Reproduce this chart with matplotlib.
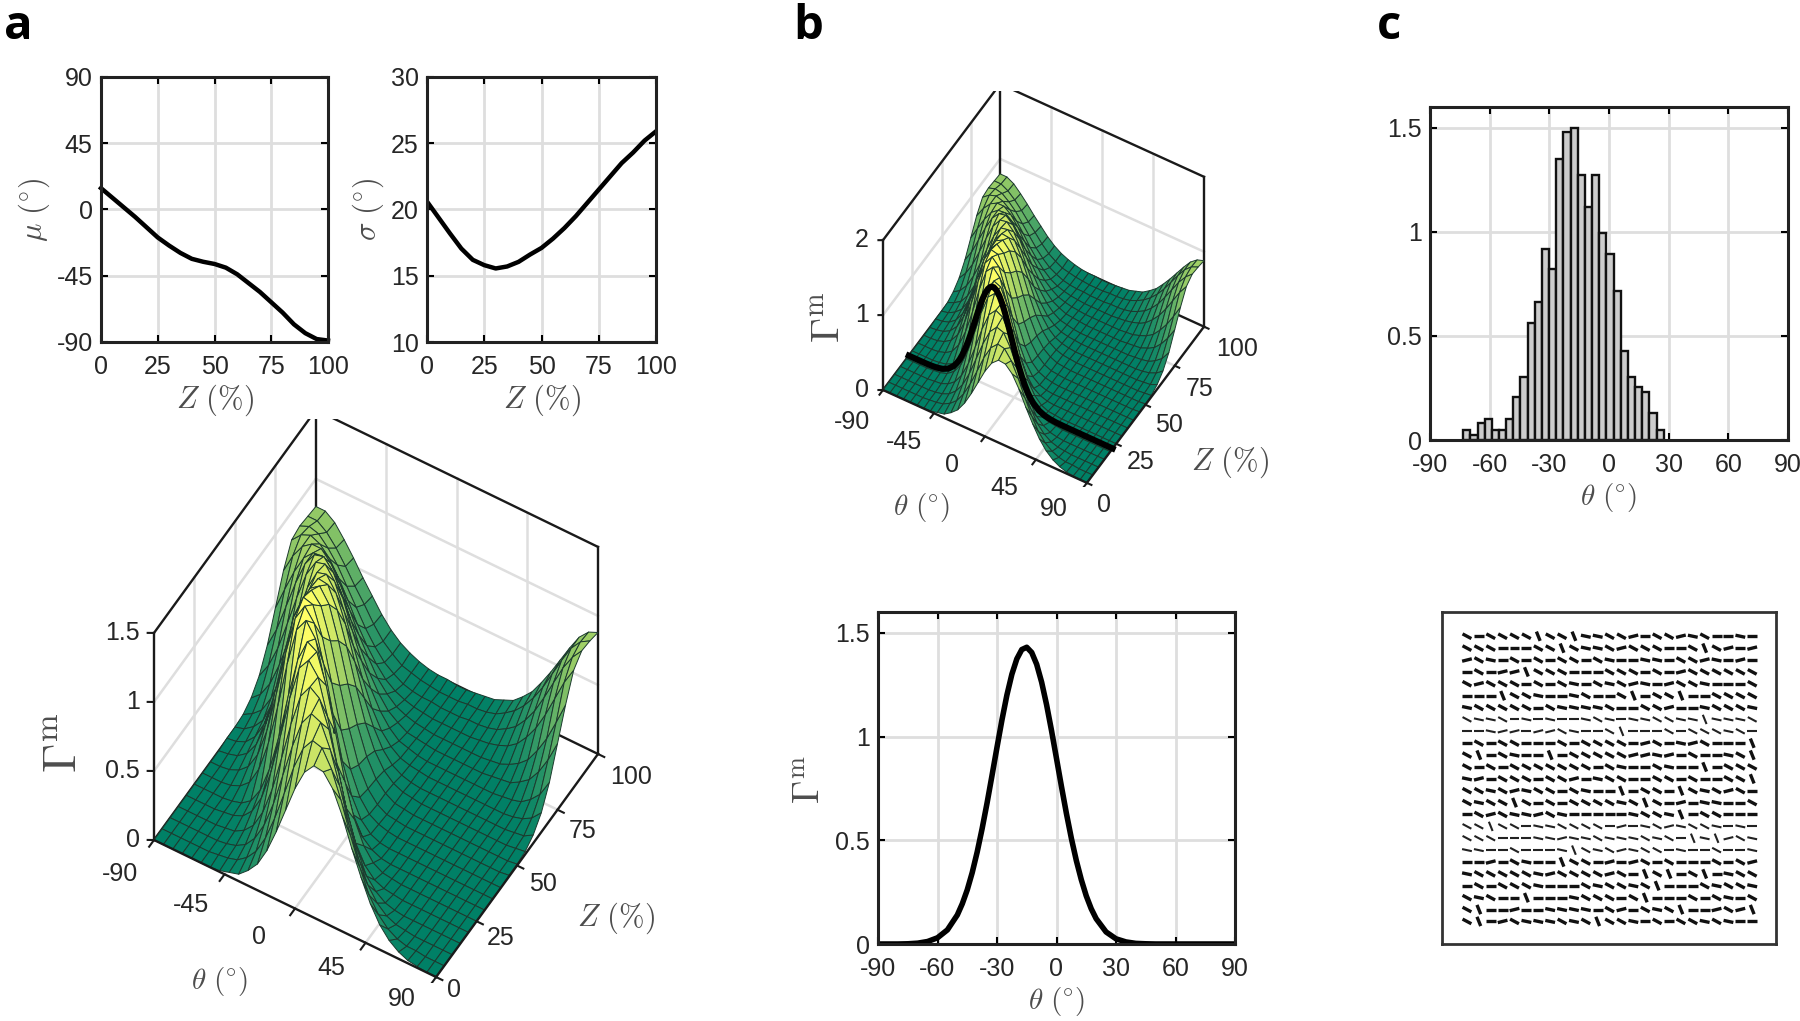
import numpy as np
import matplotlib
matplotlib.use('Agg')
import matplotlib.pyplot as plt
from matplotlib.collections import LineCollection
from mpl_toolkits.mplot3d import proj3d

plt.rcParams['font.family'] = ['Liberation Sans', 'DejaVu Sans']
plt.rcParams['mathtext.fontset'] = 'cm'
plt.rcParams['axes.unicode_minus'] = False

W, H = 1800, 1021

# top panels of a
z_pct = [0, 5, 10, 15, 20, 25, 30, 35, 40, 45, 50, 55, 60, 65, 70, 75, 80, 85, 90, 95, 100]
mu_deg = [14.5, 8, 1.5, -5, -12, -19, -24.5, -29.5, -33.5, -35.5, -37, -39.5, -44, -50, -56, -63, -70, -78, -84, -88, -89]
sigma_deg = [20.6, 19.4, 18.2, 17.05, 16.2, 15.8, 15.55, 15.7, 16.05, 16.6, 17.1, 17.8, 18.6, 19.5, 20.5, 21.5, 22.5, 23.5, 24.3, 25.2, 25.9]

# surface, one row per z_pct value, one column per theta_grid value
theta_grid = [-90, -84, -78, -72, -66, -60, -54, -48, -42, -36, -30, -24, -18, -12, -6, 0,
              6, 12, 18, 24, 30, 36, 42, 48, 54, 60, 66, 72, 78, 84, 90]
gamma_m = [
    [0, 0, 0, 0, 0, 0, 0, .01, .03, .05, .11, .19, .32, .49, .68, .87, 1.02, 1.10, 1.09, 1.00, .84, .64, .46, .30, .18, .10, .05, .02, .01, 0, 0],
    [0, 0, 0, 0, 0, 0, .01, .02, .04, .09, .17, .30, .48, .69, .91, 1.08, 1.17, 1.15, 1.03, .84, .62, .42, .25, .14, .07, .03, .01, .01, 0, 0, 0],
    [0, 0, 0, 0, 0, 0, .01, .03, .07, .15, .28, .47, .71, .95, 1.15, 1.25, 1.22, 1.06, .83, .58, .37, .21, .11, .05, .02, .01, 0, 0, 0, 0, 0],
    [0, 0, 0, 0, 0, .01, .02, .06, .13, .26, .46, .72, 1.00, 1.23, 1.33, 1.28, 1.09, .82, .54, .32, .16, .08, .03, .01, 0, 0, 0, 0, 0, 0, 0],
    [0, 0, 0, 0, .01, .02, .05, .12, .25, .47, .76, 1.07, 1.32, 1.41, 1.32, 1.07, .76, .47, .25, .12, .05, .02, .01, 0, 0, 0, 0, 0, 0, 0, 0],
    [0, 0, 0, 0, .01, .03, .08, .19, .38, .65, .98, 1.27, 1.43, 1.39, 1.18, .87, .55, .31, .15, .06, .02, .01, 0, 0, 0, 0, 0, 0, 0, 0, 0],
    [0, 0, 0, .01, .04, .10, .23, .45, .75, 1.09, 1.37, 1.47, 1.37, 1.09, .75, .45, .23, .10, .04, .01, 0, 0, 0, 0, 0, 0, 0, 0, 0, 0, 0],
    [0, 0, .01, .04, .10, .22, .43, .73, 1.06, 1.34, 1.46, 1.37, 1.11, .78, .47, .25, .11, .04, .01, 0, 0, 0, 0, 0, 0, 0, 0, 0, 0, 0, 0],
    [0, .01, .03, .08, .18, .36, .63, .95, 1.24, 1.41, 1.39, 1.19, .89, .58, .33, .16, .07, .03, .01, 0, 0, 0, 0, 0, 0, 0, 0, 0, 0, 0, 0],
    [.01, .02, .05, .12, .25, .46, .74, 1.04, 1.27, 1.38, 1.30, 1.08, .79, .51, .28, .14, .06, .02, .01, 0, 0, 0, 0, 0, 0, 0, 0, 0, 0, 0, .01],
    [.01, .03, .08, .16, .32, .54, .82, 1.09, 1.28, 1.33, 1.23, 1.00, .72, .46, .26, .13, .06, .02, .01, 0, 0, 0, 0, 0, 0, 0, 0, 0, 0, 0, .01],
    [.02, .06, .12, .24, .42, .66, .92, 1.15, 1.27, 1.26, 1.11, .88, .62, .39, .22, .11, .05, .02, .01, 0, 0, 0, 0, 0, 0, 0, 0, 0, 0, .01, .02],
    [.06, .12, .23, .40, .61, .85, 1.06, 1.20, 1.22, 1.12, .93, .69, .46, .28, .15, .07, .03, .01, 0, 0, 0, 0, 0, 0, 0, 0, 0, 0, .01, .02, .06],
    [.14, .25, .41, .62, .84, 1.04, 1.16, 1.18, 1.09, .91, .69, .48, .30, .17, .09, .04, .02, .01, 0, 0, 0, 0, 0, 0, 0, 0, 0, .01, .03, .07, .14],
    [.28, .43, .63, .83, 1.00, 1.10, 1.12, 1.04, .89, .69, .50, .33, .20, .11, .05, .03, .01, 0, 0, 0, 0, 0, 0, 0, 0, .01, .02, .04, .09, .16, .28],
    [.47, .64, .80, .93, 1.00, 1.01, .94, .81, .65, .48, .33, .21, .12, .07, .03, .02, .01, 0, 0, 0, 0, 0, 0, .01, .02, .03, .07, .12, .21, .33, .48],
    [.66, .80, .90, .95, .95, .88, .76, .61, .46, .33, .21, .13, .07, .04, .02, .01, 0, 0, 0, 0, 0, 0, .01, .02, .05, .09, .15, .25, .37, .52, .68],
    [.80, .87, .90, .87, .80, .69, .56, .42, .30, .20, .12, .07, .04, .02, .01, 0, 0, 0, 0, 0, .01, .02, .04, .07, .12, .20, .30, .43, .58, .73, .85],
    [.82, .85, .83, .76, .67, .55, .43, .31, .21, .13, .08, .04, .02, .01, .01, 0, 0, 0, .01, .01, .02, .04, .08, .13, .21, .31, .44, .58, .72, .83, .91],
    [.81, .81, .76, .68, .58, .47, .37, .26, .17, .11, .06, .04, .02, .01, 0, 0, 0, .01, .01, .02, .04, .08, .13, .20, .29, .40, .53, .66, .78, .86, .90],
    [.80, .80, .75, .66, .56, .45, .35, .25, .17, .11, .07, .04, .02, .01, .01, 0, 0, .01, .02, .03, .06, .09, .15, .22, .32, .43, .55, .67, .78, .85, .88],
]

# profile of b
theta_line = [-90, -85, -80, -75, -70, -65, -60, -55, -50, -47.5, -45, -42.5, -40, -37.5, -35, -32.5, -30, -27.5,
              -25, -22.5, -20, -17.5, -15, -12.5, -10, -7.5, -5, -2.5, 0, 2.5, 5, 7.5, 10, 12.5, 15, 17.5, 20,
              25, 30, 35, 40, 45, 50, 60, 70, 80, 90]
gamma_line = [0, 0, 0, .001, .004, .012, .03, .068, .14, .194, .261, .344, .443, .556, .68, .813, .948, 1.08,
              1.20, 1.30, 1.374, 1.419, 1.43, 1.405, 1.348, 1.262, 1.153, 1.028, .894, .759, .629, .509, .402, .31, .232, .17, .122,
              .058, .025, .01, .003, .001, 0, 0, 0, 0, 0]
line_z_pct = 22

# histogram of c
hist_edges = [-73.3, -69.7, -66.1, -62.5, -58.9, -55.3, -51.7, -48.1, -44.5, -40.9, -37.3, -33.7, -30.1, -26.5, -22.9,
              -19.3, -15.7, -12.1, -8.5, -4.9, -1.3, 2.3, 5.9, 9.5, 13.1, 16.7, 20.3, 23.9, 27.5]
hist_heights = [.05, .026, .08, .10, .05, .05, .10, .205, .305, .56, .665, .92, .82, 1.35, 1.48, 1.50, 1.275, 1.12,
                1.275, .995, .895, .715, .43, .305, .255, .23, .13, .05]

# orientation field of c: f flat, m slight, d down, s steep, u up
field_rows = [
    'dfddddsddsmmddufddumdffmf',
    'dddfffddsdmmdudddffdsdufu',
    'udmfdfdfddfdmffmmfddumfuf',
    'fdfuusdddfffdddfdfuddddd' + 'd',
    'dudddfdfdmfdmdumfuddmfffd',
    'fffsddmffmdffdsfddsffdddd',
    'mdddddfdmmmmdffdduffmdddm',
    'dmmdfmfmffmdmfmmddmmsmmmd',
    'ffmuufuudmffdsfffdfdddmdf',
    'fdfddfffdfddddfudfmudfffs',
    'dsfdmffsfddddduumufdffmds',
    'dfdfdddddddfdmffdmffsfddd',
    'mufdddfddufmddffddfdffdds',
    'ddmdumddfdmffsfddfsdmdudf',
    'dmddsdfdfddddmdsdfufmmffd',
    'fdudmmudmfffffmddmsfddfff',
    'ddsddfmmddddfufmdumddmfmf',
    'dddfffmmummdmmmdmdfsmsudm',
    'mmffdfffmsdmdumddfmffdffm',
    'ffufdmffsddfufudfdfffdfdu',
    'mdddddmuddddudfsdsfdsfmdd',
    'fdfdddmfffdmddmdsfffdmddm',
    'dmdffsfffmdddfdsfffdfdmfd',
    'dsffuffmmmmfdufdmdsffudus',
    'dsfudmmmdmdsddmfdfddmdmff',
]
field_angles = {'f': 0, 'm': -12, 'd': -28, 's': -68, 'u': 14}
thin_rows = [7, 8, 16, 17, 18]

ink = '#262626'
label_ink = '#4d4d4d'
grid_ink = '#dedede'
tick_size = 18
label_size = 22

fig = plt.figure(figsize=(W / 100, H / 100), dpi=100)


def px_axes(left, top, right, bottom):
    return fig.add_axes([left / W, 1 - bottom / H, (right - left) / W, (bottom - top) / H])


def style_2d(ax):
    ax.grid(True, color=grid_ink, linewidth=2)
    ax.set_axisbelow(True)
    ax.tick_params(direction='in', length=5, width=1.5, top=True, right=True, labelsize=tick_size,
                   labelcolor=ink, pad=6)
    ax.tick_params(axis='x', pad=9)
    for s in ax.spines.values():
        s.set_linewidth(2.2)
        s.set_color('#222222')


def to_px(ax, x, y, z):
    # data point to picture pixels, counted from the top left
    ax.apply_aspect()
    vx, vy, _ = proj3d.proj_transform(np.array(x, float), np.array(y, float), np.array(z, float), ax.get_proj())
    p = ax.transData.transform(np.c_[vx, vy])
    return p[:, 0], H - p[:, 1]


def fit_box(ax, corner_px, right_px):
    # move the 3d axes so its bottom left corner lands on corner_px
    side = 1000.
    ax.set_position([0, 0, side / W, side / H])
    px, _ = to_px(ax, [-90, 90], [0, 100], [0, 0])
    side = side * (right_px - corner_px[0]) / (px[1] - px[0])
    ax.set_position([0, 0, side / W, side / H])
    px, py = to_px(ax, [-90, 90], [0, 100], [0, 0])
    ax.set_position([(corner_px[0] - px[0]) / W, (py[0] - corner_px[1]) / H, side / W, side / H])


def px_text(x, y, s, **kw):
    fig.text(x / W, 1 - y / H, s, **kw)


def draw_3d(elev, azim, box, zmax, zticks, zticklabels, corner_px, right_px, theta_off, z_off):
    ax = fig.add_subplot(projection='3d', proj_type='ortho', computed_zorder=False)
    ax.set_xlim(-90, 90)
    ax.set_ylim(0, 100)
    ax.set_zlim(0, zmax)
    ax.view_init(elev=elev, azim=azim)
    ax.set_box_aspect(box)
    ax.set_axis_off()
    ax.patch.set_alpha(0)
    fit_box(ax, corner_px, right_px)

    thetas = [-90, -45, 0, 45, 90]
    zs = [0, 25, 50, 75, 100]
    # walls and floor
    for t in thetas[1:-1]:
        ax.plot([t, t], [100, 100], [0, zmax], color=grid_ink, lw=1.8, zorder=1)
        ax.plot([t, t], [0, 100], [0, 0], color=grid_ink, lw=1.8, zorder=1)
    for z in zs[1:-1]:
        ax.plot([-90, -90], [z, z], [0, zmax], color=grid_ink, lw=1.8, zorder=1)
        ax.plot([-90, 90], [z, z], [0, 0], color=grid_ink, lw=1.8, zorder=1)
    for v in zticks[1:-1]:
        ax.plot([-90, -90], [0, 100], [v, v], color=grid_ink, lw=1.8, zorder=1)
        ax.plot([-90, 90], [100, 100], [v, v], color=grid_ink, lw=1.8, zorder=1)

    box_ink = '#1a1a1a'
    # back edges go under the surface
    ax.plot([-90, -90], [100, 100], [0, zmax], color=box_ink, lw=1.7, zorder=1.5)
    ax.plot([90, 90], [100, 100], [0, zmax], color=box_ink, lw=1.7, zorder=1.5)
    ax.plot([-90, 90], [100, 100], [0, 0], color=box_ink, lw=1.7, zorder=1.5)
    ax.plot([-90, -90], [0, 100], [0, 0], color=box_ink, lw=1.7, zorder=1.5)
    ax.plot([-90, -90], [0, 100], [zmax, zmax], color=box_ink, lw=1.7, zorder=1.5)
    ax.plot([-90, 90], [100, 100], [zmax, zmax], color=box_ink, lw=1.7, zorder=1.5)
    ax.plot([-90, -90], [0, 0], [0, zmax], color=box_ink, lw=1.7, zorder=1.5)

    X, Y = np.meshgrid(theta_grid, z_pct)
    ax.plot_surface(X, Y, np.array(gamma_m), cmap='summer', vmin=0, vmax=1.4, rstride=1, cstride=1,
                    edgecolor='#1c3a2e', linewidth=0.7, shade=False, antialiased=True, zorder=2)

    # front edges and ticks
    ax.plot([-90, 90], [0, 0], [0, 0], color=box_ink, lw=1.7, zorder=4)
    ax.plot([90, 90], [0, 100], [0, 0], color=box_ink, lw=1.7, zorder=4)
    for t, off in zip(thetas, theta_off):
        ax.plot([t, t], [0, -3], [0, 0], color=box_ink, lw=1.5, zorder=4)
        px, py = to_px(ax, [t], [0], [0])
        px_text(px[0] + off[0], py[0] + off[1], str(t), fontsize=tick_size, color=ink, ha='center', va='center')
    for z, off in zip(zs, z_off):
        ax.plot([90, 94], [z, z], [0, 0], color=box_ink, lw=1.5, zorder=4)
        px, py = to_px(ax, [90], [z], [0])
        px_text(px[0] + off[0], py[0] + off[1], str(z), fontsize=tick_size, color=ink, ha='center', va='center')
    for v, lab in zip(zticks, zticklabels):
        ax.plot([-90, -93], [0, -1], [v, v], color=box_ink, lw=1.5, zorder=4)
        px, py = to_px(ax, [-90], [0], [v])
        px_text(px[0] - 14, py[0], lab, fontsize=tick_size, color=ink, ha='right', va='center')
    return ax


# panel a, top
ax = px_axes(101, 77, 328, 342)
style_2d(ax)
ax.plot(z_pct, mu_deg, color='black', lw=3.2, clip_on=False)
ax.set_xlim(0, 100)
ax.set_ylim(-90, 90)
ax.set_xticks([0, 25, 50, 75, 100])
ax.set_yticks([-90, -45, 0, 45, 90])
ax.set_xlabel(r'$Z\ (\%)$', fontsize=label_size, color=label_ink, labelpad=3)
ax.set_ylabel(r'$\mu\ (^{\circ})$', fontsize=label_size, color=label_ink, labelpad=3)

ax = px_axes(427, 77, 656, 342)
style_2d(ax)
ax.plot(z_pct, sigma_deg, color='black', lw=3.2)
ax.set_xlim(0, 100)
ax.set_ylim(10, 30)
ax.set_xticks([0, 25, 50, 75, 100])
ax.set_yticks([10, 15, 20, 25, 30])
ax.set_xlabel(r'$Z\ (\%)$', fontsize=label_size, color=label_ink, labelpad=3)
ax.set_ylabel(r'$\sigma\ (^{\circ})$', fontsize=label_size, color=label_ink, labelpad=3)

# panel a, surface
draw_3d(54.9, -59.3, (328, 317, 360), 1.5, [0, .5, 1, 1.5], ['0', '0.5', '1', '1.5'], (154, 840), 598,
        [(-34, 34), (-34, 31), (-36, 28), (-34, 25), (-34, 22)],
        [(18, 13), (24, 17), (26, 18), (25, 21), (33, 23)])
px_text(65, 743, r'$\Gamma^{\mathrm{m}}$', fontsize=34, color=label_ink, rotation=90, ha='center', va='center')
px_text(220, 981, r'$\theta\ (^{\circ})$', fontsize=label_size - 1, color=label_ink, ha='center', va='center')
px_text(616, 918, r'$Z\ (\%)$', fontsize=label_size, color=label_ink, ha='center', va='center')

# panel b, surface
ax = draw_3d(51.2, -59.7, (236, 232, 239), 2, [0, 1, 2], ['0', '1', '2'], (883, 390), 1204,
             [(-31, 32), (-30, 29), (-33, 29), (-32, 28), (-33, 26)],
             [(17, 22), (24, 18), (24, 20), (25, 23), (33, 22)])
ax.plot(theta_line, [line_z_pct] * len(theta_line), gamma_line, color='black', lw=4.4, zorder=5)
px_text(829, 317, r'$\Gamma^{\mathrm{m}}$', fontsize=29, color=label_ink, rotation=90, ha='center', va='center')
px_text(922, 507, r'$\theta\ (^{\circ})$', fontsize=label_size - 1, color=label_ink, ha='center', va='center')
px_text(1230, 462, r'$Z\ (\%)$', fontsize=label_size, color=label_ink, ha='center', va='center')

# panel b, profile
ax = px_axes(878, 612, 1235, 944)
style_2d(ax)
ax.plot(theta_line, gamma_line, color='black', lw=4)
ax.set_xlim(-90, 90)
ax.set_ylim(0, 1.6)
ax.set_xticks([-90, -60, -30, 0, 30, 60, 90])
ax.set_yticks([0, .5, 1, 1.5])
ax.set_yticklabels(['0', '0.5', '1', '1.5'])
ax.set_xlabel(r'$\theta\ (^{\circ})$', fontsize=label_size - 1, color=label_ink, labelpad=3)
px_text(810, 780, r'$\Gamma^{\mathrm{m}}$', fontsize=27, color=label_ink, rotation=90, ha='center', va='center')

# panel c, histogram
ax = px_axes(1430, 107, 1788, 440)
style_2d(ax)
ax.bar(hist_edges[:-1], hist_heights, width=np.diff(hist_edges), align='edge', color='#cccccc', edgecolor='#111111', linewidth=1.7)
ax.set_xlim(-90, 90)
ax.set_ylim(0, 1.6)
ax.set_xticks([-90, -60, -30, 0, 30, 60, 90])
ax.set_yticks([0, .5, 1, 1.5])
ax.set_yticklabels(['0', '0.5', '1', '1.5'])
ax.set_xlabel(r'$\theta\ (^{\circ})$', fontsize=label_size - 1, color=label_ink, labelpad=3)

# panel c, orientation field
ax = px_axes(1442, 612, 1776, 944)
half = 0.42
thick, thin = [], []
for r, row in enumerate(field_rows):
    for c, code in enumerate(row):
        a = np.deg2rad(field_angles[code])
        seg = [(c - half * np.cos(a), r + half * np.sin(a)), (c + half * np.cos(a), r - half * np.sin(a))]
        (thin if r in thin_rows else thick).append(seg)
ax.add_collection(LineCollection(thick, colors='#111111', linewidths=2.4, capstyle='butt'))
ax.add_collection(LineCollection(thin, colors='#222222', linewidths=1.5, capstyle='butt'))
ax.set_xlim(-2.1, 26)
ax.set_ylim(25.9, -2.04)
ax.set_xticks([])
ax.set_yticks([])
for s in ax.spines.values():
    s.set_linewidth(2)
    s.set_color('#333333')

# panel letters
for letter, x in zip(['a', 'b', 'c'], [18, 808, 1389]):
    px_text(x, 26, letter, fontsize=34, fontweight='bold', family=['Open Sans', 'DejaVu Sans'],
            color='black', ha='center', va='center')

fig.savefig('out.png', dpi=100)
